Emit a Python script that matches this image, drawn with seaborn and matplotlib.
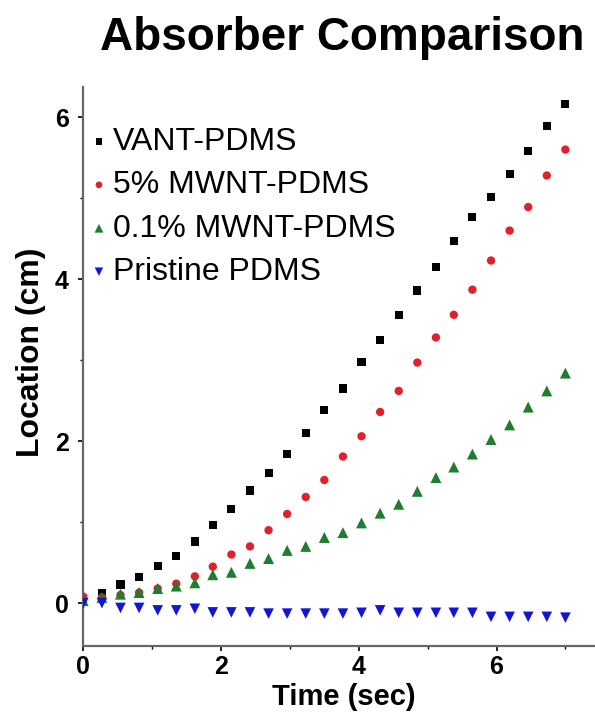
import matplotlib
matplotlib.use("Agg")
import matplotlib.pyplot as plt
import seaborn as sns
import pandas as pd
from matplotlib.ticker import MultipleLocator

# ---- data ----
time_sec = [0.00, 0.27, 0.54, 0.81, 1.08, 1.35, 1.62, 1.88, 2.15, 2.42, 2.69, 2.96, 3.23,
            3.50, 3.77, 4.04, 4.31, 4.58, 4.85, 5.12, 5.38, 5.65, 5.92, 6.19, 6.46, 6.73, 7.00]

vant_pdms = [0.05, 0.13, 0.23, 0.32, 0.46, 0.58, 0.76, 0.96, 1.16, 1.39, 1.61, 1.84, 2.10,
             2.38, 2.65, 2.98, 3.25, 3.56, 3.86, 4.15, 4.47, 4.77, 5.02, 5.30, 5.58, 5.89, 6.16]

mwnt5_pdms = [0.08, 0.07, 0.10, 0.13, 0.18, 0.24, 0.33, 0.45, 0.60, 0.70, 0.90, 1.10, 1.31,
              1.52, 1.81, 2.06, 2.36, 2.62, 2.97, 3.28, 3.56, 3.87, 4.23, 4.60, 4.89, 5.28, 5.60]

mwnt01_pdms = [0.03, 0.07, 0.11, 0.13, 0.18, 0.21, 0.25, 0.35, 0.38, 0.49, 0.55, 0.65, 0.70,
               0.81, 0.87, 0.99, 1.11, 1.22, 1.38, 1.55, 1.68, 1.84, 2.02, 2.20, 2.42, 2.62, 2.84]

pristine_pdms = [0.00, 0.00, -0.06, -0.06, -0.09, -0.09, -0.07, -0.115, -0.115, -0.115, -0.13, -0.13, -0.13,
                 -0.13, -0.13, -0.12, -0.09, -0.12, -0.12, -0.12, -0.12, -0.12, -0.17, -0.17, -0.17, -0.17, -0.18]

series_names = ["VANT-PDMS", "5% MWNT-PDMS", "0.1% MWNT-PDMS", "Pristine PDMS"]
series_values = [vant_pdms, mwnt5_pdms, mwnt01_pdms, pristine_pdms]

title = "Absorber Comparison"
x_label = "Time (sec)"
y_label = "Location (cm)"
major_ticks = [0, 2, 4, 6]

# ---- styling ----
colors = ["#000000", "#e0202a", "#1e7d2e", "#1414d8"]
markers = ["s", "o", "^", "v"]
msizes = [34, 36, 62, 58]

sns.set_style("white")
plt.rcParams["font.family"] = ["Liberation Sans", "DejaVu Sans"]
plt.rcParams["text.color"] = "black"
plt.rcParams["xtick.color"] = "black"
plt.rcParams["ytick.color"] = "black"

fig = plt.figure(figsize=(5.95, 7.15), dpi=100)
ax = fig.add_axes([0.14, 0.0965, 0.86, 0.7815])

for name, vals, c, m, s in zip(series_names, series_values, colors, markers, msizes):
    df = pd.DataFrame({"t": time_sec, "y": vals})
    sns.scatterplot(data=df, x="t", y="y", ax=ax, color=c, marker=m, s=s,
                    edgecolor="none", linewidth=0, label=name, zorder=3)

ax.set_xlim(0, 7.43)
ax.set_ylim(-0.53, 6.37)
ax.set_xticks(major_ticks)
ax.set_yticks(major_ticks)
ax.xaxis.set_minor_locator(MultipleLocator(1))
ax.yaxis.set_minor_locator(MultipleLocator(1))

for sp in ["top", "right"]:
    ax.spines[sp].set_visible(False)
for sp in ["left", "bottom"]:
    ax.spines[sp].set_color("#666666")
    ax.spines[sp].set_linewidth(1.6)

ax.tick_params(which="major", direction="out", length=3.6, width=1.2, labelcolor="black",
               labelsize=18, bottom=True, left=True)
ax.tick_params(axis="y", which="major", pad=7)
ax.tick_params(axis="x", which="major", pad=3)
ax.tick_params(which="minor", direction="out", length=2.5, width=1.0,
               bottom=True, left=True)
for sp_ax in (ax.xaxis, ax.yaxis):
    for t in sp_ax.get_major_ticks() + sp_ax.get_minor_ticks():
        t.tick1line.set_color("#666666")
for lab in ax.get_xticklabels() + ax.get_yticklabels():
    lab.set_fontweight("bold")

ax.set_xlabel("")
ax.set_ylabel("")
fig.text(344 / 595, 1 - 705 / 715, x_label, fontsize=21, fontweight="bold",
         ha="center", va="baseline")
fig.text(31 / 595, 1 - 352 / 715, y_label, fontsize=23, fontweight="bold",
         ha="center", va="center", rotation=90)
fig.text(342 / 595, 1 - 50 / 715, title, fontsize=33, fontweight="bold",
         ha="center", va="baseline")

leg = ax.legend(loc="upper left", bbox_to_anchor=(0.0, 0.932), frameon=False, fontsize=23,
                handletextpad=0.0, labelspacing=0.42, borderaxespad=0.0,
                markerscale=0.8, handlelength=0.88, borderpad=0.05)

fig.savefig("out.png", dpi=100)
